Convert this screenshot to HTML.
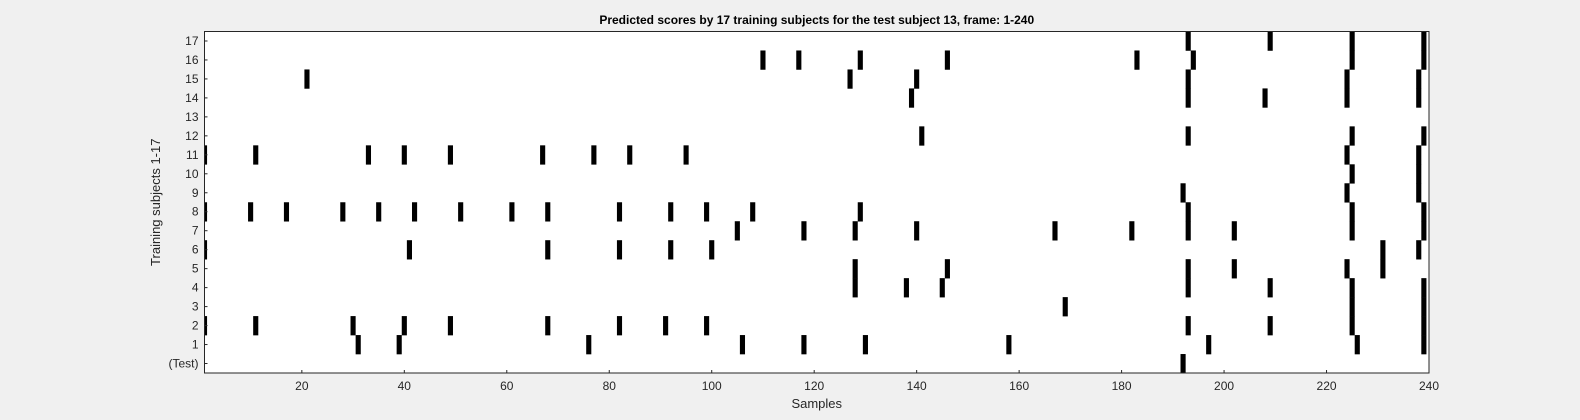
<!DOCTYPE html>
<html><head><meta charset="utf-8">
<style>
html,body{margin:0;padding:0;background:#f0f0f0;}
svg{display:block;font-family:"Liberation Sans",Arial,sans-serif;}
</style></head>
<body>
<svg id="chart" width="1580" height="420" viewBox="0 0 1580 420"></svg>
<script>
const rowLabels = ["(Test)","1","2","3","4","5","6","7","8","9","10","11","12","13","14","15","16","17"];
const xTicks = [20,40,60,80,100,120,140,160,180,200,220,240];
const rowTest = [192];
const row1 = [31,39,76,106,118,130,158,197,226,239];
const row2 = [1,11,30,40,49,68,82,91,99,193,209,225,239];
const row3 = [169,225,239];
const row4 = [128,138,145,193,209,225,239];
const row5 = [128,146,193,202,224,231];
const row6 = [1,41,68,82,92,100,231,238];
const row7 = [105,118,128,140,167,182,193,202,225,239];
const row8 = [1,10,17,28,35,42,51,61,68,82,92,99,108,129,193,225,239];
const row9 = [192,224,238];
const row10 = [225,238];
const row11 = [1,11,33,40,49,67,77,84,95,224,238];
const row12 = [141,193,225,239];
const row13 = [];
const row14 = [139,193,208,224,238];
const row15 = [21,127,140,193,224,238];
const row16 = [110,117,129,146,183,194,225,239];
const row17 = [193,209,225,239];
const rows = [rowTest,row1,row2,row3,row4,row5,row6,row7,row8,row9,row10,row11,row12,row13,row14,row15,row16,row17];

const L=204.5, R=1429, T=31.5, B=373;
const xMin=1, xMax=240;
const sx = v => L + (v - xMin) * (R - L) / (xMax - xMin);
const rowH = (B - T) / rowLabels.length;
const sy = r => B - (r + 1) * rowH; // top of row r
const NS="http://www.w3.org/2000/svg";
const svg=document.getElementById('chart');
function mk(tag, attrs, parent){const e=document.createElementNS(NS,tag);for(const k in attrs)e.setAttribute(k,attrs[k]);(parent||svg).appendChild(e);return e;}

const plot = mk('rect',{x:L,y:T,width:R-L,height:B-T,fill:'#ffffff'});



const clip = mk('clipPath',{id:'pc'});
mk('rect',{x:L,y:T,width:R-L,height:B-T},clip);
const g = mk('g',{'clip-path':'url(#pc)'});


const u = (R-L)/(xMax-xMin);
rows.forEach((arr,r)=>{
  arr.forEach(v=>{
    const b = mk('rect',{x:sx(v)-u/2,y:sy(r),width:u,height:rowH+0.3,fill:'#000'},g);
    
    
  });
});

const frame = mk('rect',{x:L,y:T,width:R-L,height:B-T,fill:'none',stroke:'#262626','stroke-width':1});



xTicks.forEach(t=>{
  const x=sx(t);
  const tk = mk('line',{x1:x,x2:x,y1:B,y2:B-3,stroke:'#262626','stroke-width':1});
  
  
  const tl = mk('text',{x:x,y:B+17,'text-anchor':'middle','font-size':12,fill:'#262626'});
  tl.textContent=t;
  
  
});
rowLabels.forEach((lab,r)=>{
  const y=sy(r)+rowH/2;
  const tk = mk('line',{x1:L,x2:L+3,y1:y,y2:y,stroke:'#262626','stroke-width':1});
  
  
  const tl = mk('text',{x:L-6,y:y+4,'text-anchor':'end','font-size':12,fill:'#262626'});
  tl.textContent=lab;
  
  
});

const title = mk('text',{x:(L+R)/2,y:24,'text-anchor':'middle','font-size':12,'font-weight':'bold',fill:'#000'});
title.textContent='Predicted scores by 17 training subjects for the test subject 13, frame: 1-240';



const xl = mk('text',{x:(L+R)/2,y:408,'text-anchor':'middle','font-size':13,fill:'#262626'});
xl.textContent='Samples';



const yl = mk('text',{x:0,y:0,'text-anchor':'middle','font-size':13,fill:'#262626',transform:'translate(160,'+((T+B)/2)+') rotate(-90)'});
yl.textContent='Training subjects 1-17';


</script>
</body></html>
